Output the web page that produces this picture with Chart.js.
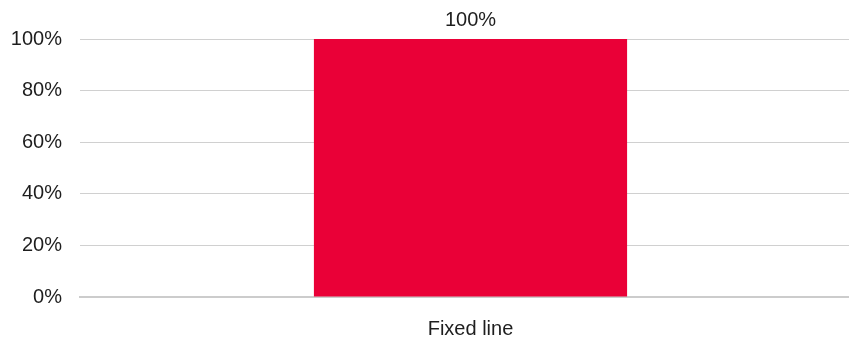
<!DOCTYPE html>
<html lang="en">
<head>
    <meta charset="UTF-8">
    <script src="https://cdn.jsdelivr.net/npm/chart.js"></script>
    <title>Fixed line</title>
    <style>
        html, body { margin: 0; padding: 0; background: #fff; overflow: hidden; }
    </style>
</head>
<body>
    <!-- o canvas é um pouco mais largo que a janela, a área do gráfico continua além da borda -->
    <canvas id="grafico" width="862" height="338"></canvas>
<script>
    const categorias = ['Fixed line'];
    const valores = [100];
    const ticksY = [0, 20, 40, 60, 80, 100];

    const fonte = "'Liberation Sans', Arial, sans-serif";

    // escreve o valor em cima de cada barra
    const rotuloBarras = {
        id: 'rotuloBarras',
        afterDatasetsDraw(chart) {
            const ctx = chart.ctx;
            const meta = chart.getDatasetMeta(0);
            ctx.save();
            ctx.font = '20px ' + fonte;
            ctx.fillStyle = '#1e1e1e';
            ctx.textAlign = 'center';
            ctx.textBaseline = 'middle';
            meta.data.forEach((barra, i) => {
                ctx.fillText(valores[i] + '%', barra.x, barra.y - 19);
            });
            ctx.restore();
        }
    };

    const ctx = document.getElementById('grafico').getContext('2d');
    new Chart(ctx, {
        type: 'bar',
        data: {
            labels: categorias,
            datasets: [{
                data: valores,
                backgroundColor: '#EA0037',
                borderWidth: 0,
                barPercentage: 0.401,
                categoryPercentage: 1
            }]
        },
        options: {
            responsive: false,
            animation: false,
            layout: { padding: { top: 39, right: 1, left: 0, bottom: 0 } },
            plugins: {
                legend: { display: false },
                tooltip: { enabled: false }
            },
            scales: {
                x: {
                    grid: { display: false, drawTicks: false },
                    border: { color: '#cccccc', width: 2 },
                    ticks: { color: '#1e1e1e', font: { family: fonte, size: 20 }, padding: 20 },
                    afterFit: (s) => { s.height = 41; }
                },
                y: {
                    min: 0,
                    max: 100,
                    afterBuildTicks: (s) => { s.ticks = ticksY.map(v => ({ value: v })); },
                    grid: { color: '#d0d0d0', drawTicks: false },
                    border: { display: false },
                    ticks: {
                        color: '#1e1e1e',
                        font: { family: fonte, size: 20 },
                        padding: 18,
                        callback: (v) => v + '%'
                    },
                    afterFit: (s) => { s.width = 80; }
                }
            }
        },
        plugins: [rotuloBarras]
    });
</script>
</body>
</html>
